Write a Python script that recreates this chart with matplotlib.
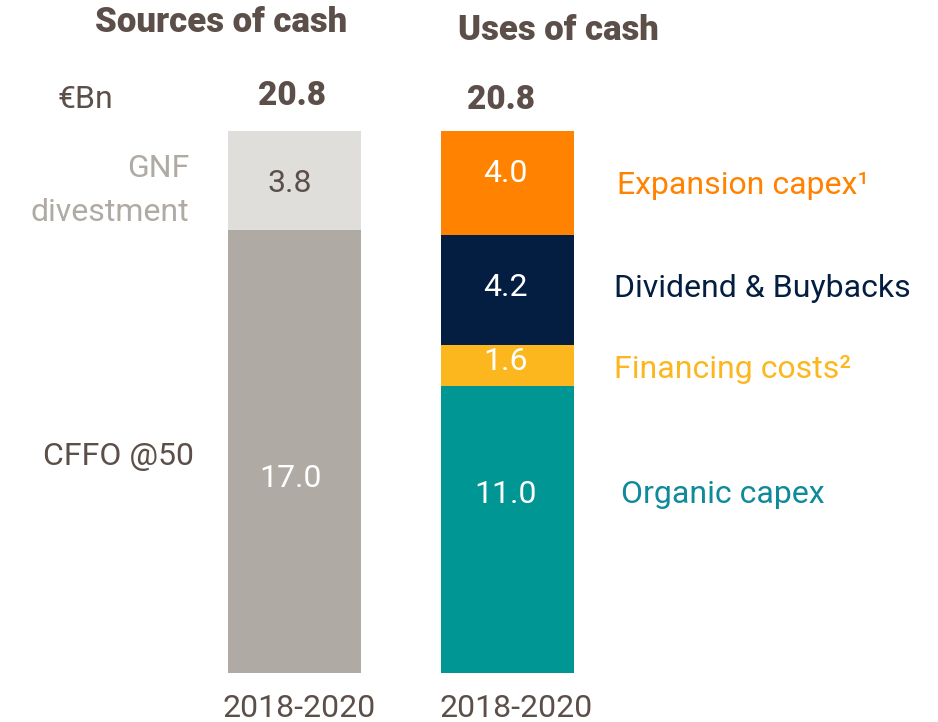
import numpy as np
import matplotlib.pyplot as plt

# data (EUR Bn, 2018-2020)
period = "2018-2020"
sources_labels = ["CFFO @50", "GNF\ndivestment"]
sources_values = [17.0, 3.8]
uses_labels = ["Organic capex", "Financing costs\u00b2", "Dividend & Buybacks", "Expansion capex\u00b9"]
uses_values = [11.0, 1.6, 4.2, 4.0]

SRC_COLORS = ["#b0aaa4", "#dfdeda"]
USE_COLORS = ["#009694", "#fdb71e", "#041e42", "#ff8200"]
USE_TEXT_COLORS = ["#0e8a9b", "#fdb71e", "#041e42", "#ff8200"]
DARK = "#5c4f4a"

plt.rcParams['font.family'] = ['Roboto', 'DejaVu Sans']
FS = 23

fig = plt.figure(figsize=(9.38, 7.22), dpi=100)
# axes placed so that bar bottom/top land where the reference has them
ax = fig.add_axes([0, 49 / 722, 1, 542 / 722])
ax.set_ylim(0, sum(sources_values))
ax.set_xlim(-294.5 / 213, (938 - 294.5) / 213)
ax.axis("off")

width = 133 / 213

# sources bar
bottom = 0
for v, c in zip(sources_values, SRC_COLORS):
    ax.bar(0, v, width, bottom=bottom, color=c, linewidth=0)
    bottom += v

# uses bar
bottom = 0
for v, c in zip(uses_values, USE_COLORS):
    ax.bar(1, v, width, bottom=bottom, color=c, linewidth=0)
    bottom += v

# value labels inside bars
src_mid = np.cumsum(sources_values) - np.array(sources_values) / 2
src_shift = [-1.05, -0.1]
src_txt_col = ["white", DARK]
for m, v, s, tc in zip(src_mid, sources_values, src_shift, src_txt_col):
    ax.text(-0.02, m + s, f"{v:.1f}", ha="center", va="center",
            fontsize=FS, color=tc)

use_mid = np.cumsum(uses_values) - np.array(uses_values) / 2
use_shift = [1.35, 0.15, 0.1, 0.35]
for m, v, s in zip(use_mid, uses_values, use_shift):
    ax.text(0.99, m + s, f"{v:.1f}", ha="center", va="center",
            fontsize=FS, color="white")

# category labels
ax.text(-0.47, 8.3, sources_labels[0], ha="right", va="center",
        fontsize=FS, color=DARK)
ax.text(-0.495, 18.5, sources_labels[1], ha="right", va="center",
        fontsize=FS, color="#b0aaa4", linespacing=1.65)

use_lbl_x = [1.533, 1.5, 1.5, 1.514]
use_lbl_shift = [1.35, -0.15, 0.05, -0.1]
for m, lbl, x, s, c in zip(use_mid, uses_labels, use_lbl_x, use_lbl_shift, USE_TEXT_COLORS):
    ax.text(x, m + s, lbl, ha="left", va="center", fontsize=FS, color=c)

# totals
ax.text(-0.01, sum(sources_values) + 1.35, f"{sum(sources_values):.1f}",
        ha="center", va="center", fontsize=24, fontweight="heavy", color=DARK)
ax.text(0.97, sum(uses_values) + 1.2, f"{sum(uses_values):.1f}",
        ha="center", va="center", fontsize=24, fontweight="heavy", color=DARK)
ax.text(-0.98, sum(uses_values) + 1.2, "\u20acBn", ha="center", va="center",
        fontsize=FS, color=DARK)

# period labels under bars
ax.text(0.02, -1.68, period, ha="center", va="baseline", fontsize=FS, color=DARK)
ax.text(1.04, -1.68, period, ha="center", va="baseline", fontsize=FS, color=DARK)

# headings
fig.text(221 / 938, 1 - 22 / 722, "Sources of cash", ha="center", va="center",
         fontsize=25, fontweight="heavy", color=DARK)
fig.text(558 / 938, 1 - 30 / 722, "Uses of cash", ha="center", va="center",
         fontsize=25, fontweight="heavy", color=DARK)

fig.savefig("out.png", dpi=100)
